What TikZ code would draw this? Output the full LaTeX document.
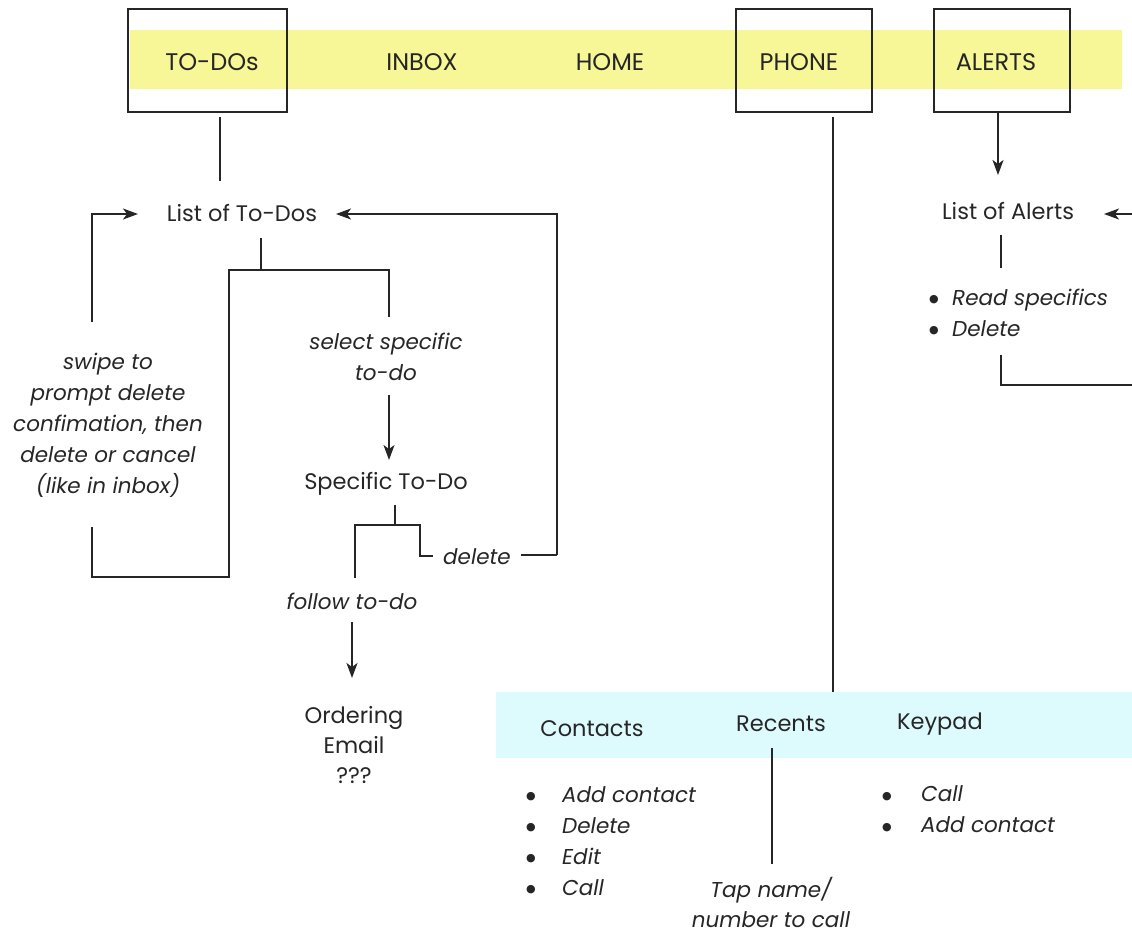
\documentclass[tikz,border=0pt]{standalone}
\usepackage{fontspec}
\setmainfont{Poppins}
\newfontfamily\dejavufam{DejaVu Sans}
\newcommand\bigdot{\raisebox{2.5pt}{\dejavufam\fontsize{11}{11}\selectfont ●}}
\usetikzlibrary{arrows.meta}
\definecolor{bandyellow}{HTML}{F7F797}
\definecolor{bandcyan}{HTML}{DDFBFD}
\definecolor{ink}{HTML}{262626}
\begin{document}
\begin{tikzpicture}[x=1pt,y=-1pt,
  lbl/.style={font=\fontsize{22.5}{29}\selectfont, inner sep=0pt, text=ink, align=center},
  tablbl/.style={font=\fontsize{24}{29}\selectfont, inner sep=0pt, text=ink},
  note/.style={font=\fontsize{21.5}{31}\selectfont\itshape, inner sep=0pt, text=ink, align=center},
  lst/.style={font=\fontsize{21.5}{31}\selectfont\itshape, inner sep=0pt, text=ink, align=left, anchor=west},
  tabbox/.style={draw=ink, line width=1.2pt, inner sep=0pt},
  ln/.style={draw=ink, line width=1.5pt},
  arr/.style={ln, -{Stealth[length=15pt,width=11pt,inset=4pt]}}]
\useasboundingbox (0,0) rectangle (1132,934);
% bands
\fill[bandyellow] (130,30) rectangle (1122,89);
\fill[bandcyan] (496,692) rectangle (1132,758);
% tab boxes
\node[tabbox, minimum width=159pt, minimum height=103pt] (boxTodo) at (207.5,60.5) {};
\node[tabbox, minimum width=136pt, minimum height=103pt] (boxPhone) at (804,60.5) {};
\node[tabbox, minimum width=136pt, minimum height=103pt] (boxAlerts) at (1002,60.5) {};
% tab labels
\node[tablbl] (tTodo) at (212,62) {TO-DOs};
\node[tablbl] (tInbox) at (422,62) {INBOX};
\node[tablbl] (tHome) at (610,62) {HOME};
\node[tablbl] (tPhone) at (799,62) {PHONE};
\node[tablbl] (tAlerts) at (996,62) {ALERTS};
% to-do flow
\node[lbl] (listTodo) at (242,213) {List of To-Dos};
\node[note] (swipe) at (108,425) {swipe to\\prompt delete\\confimation, then\\delete or cancel\\(like in inbox)};
\node[note] (select) at (386,357) {select specific\\to-do};
\node[lbl] (specTodo) at (386,484) {Specific To-Do};
\node[note] (delete) at (477,557) {delete};
\node[note] (follow) at (352,601) {follow to-do};
\node[lbl, font=\fontsize{22.5}{30}\selectfont] (ordering) at (354,745) {Ordering\\Email\\???};
% phone
\node[lbl] (contacts) at (592,729) {Contacts};
\node[lbl] (recents) at (781,724) {Recents};
\node[lbl] (keypad) at (940,724) {Keypad};
\node[note, font=\fontsize{21.5}{30}\selectfont\itshape] (tap) at (771,902) {Tap name/\\number to call};
\node[lst] (contactList) at (526,841) {\makebox[36pt][l]{\bigdot}Add contact\\\makebox[36pt][l]{\bigdot}Delete\\\makebox[36pt][l]{\bigdot}Edit\\\makebox[36pt][l]{\bigdot}Call};
\node[lst] (keypadList) at (882,809.5) {\makebox[39pt][l]{\bigdot}Call\\\makebox[39pt][l]{\bigdot}Add contact};
% alerts
\node[lbl] (listAlerts) at (1008,211) {List of Alerts};
\node[lst] (alertList) at (929,312.5) {\makebox[23pt][l]{\bigdot}Read specifics\\\makebox[23pt][l]{\bigdot}Delete};
% coordinates for free ends
\coordinate (swTop) at (92,322);
\coordinate (swBot) at (92,527);
\coordinate (delRet) at (557,555);
\coordinate (alertIn) at (1132,214);
\coordinate (alertOut) at (1132,385);
% connectors
\draw[ln] (boxTodo.south) ++(12.5,4) -- ++(0,64);
\draw[arr] (swTop) -- (92,214) -- (138,214);
\draw[arr] (delRet) -- (557,214) -- (336,214);
\draw[ln] (261,238) -- (261,270);
\draw[ln] (389,317) -- (389,270) -- (229,270) -- (229,577) -- (92,577) -- (swBot);
\draw[arr] (389,395) -- (389,460);
\draw[ln] (395,505) -- (395,525);
\draw[ln] (355,578) -- (355,525) -- (420,525) -- (420,556) -- (433,556);
\draw[ln] (521,555) -- (delRet);
\draw[arr] (352,622) -- (352,678);
\draw[ln] (boxPhone.south) ++(29,4) -- (833,692);
\draw[ln] (772,748) -- (772,864);
\draw[arr] (boxAlerts.south) ++(-4,0) -- (998,175);
\draw[arr] (alertIn) -- (1104,214);
\draw[ln] (1001,235) -- (1001,268);
\draw[ln] (1001,355) -- (1001,385) -- (alertOut);
\end{tikzpicture}
\end{document}
